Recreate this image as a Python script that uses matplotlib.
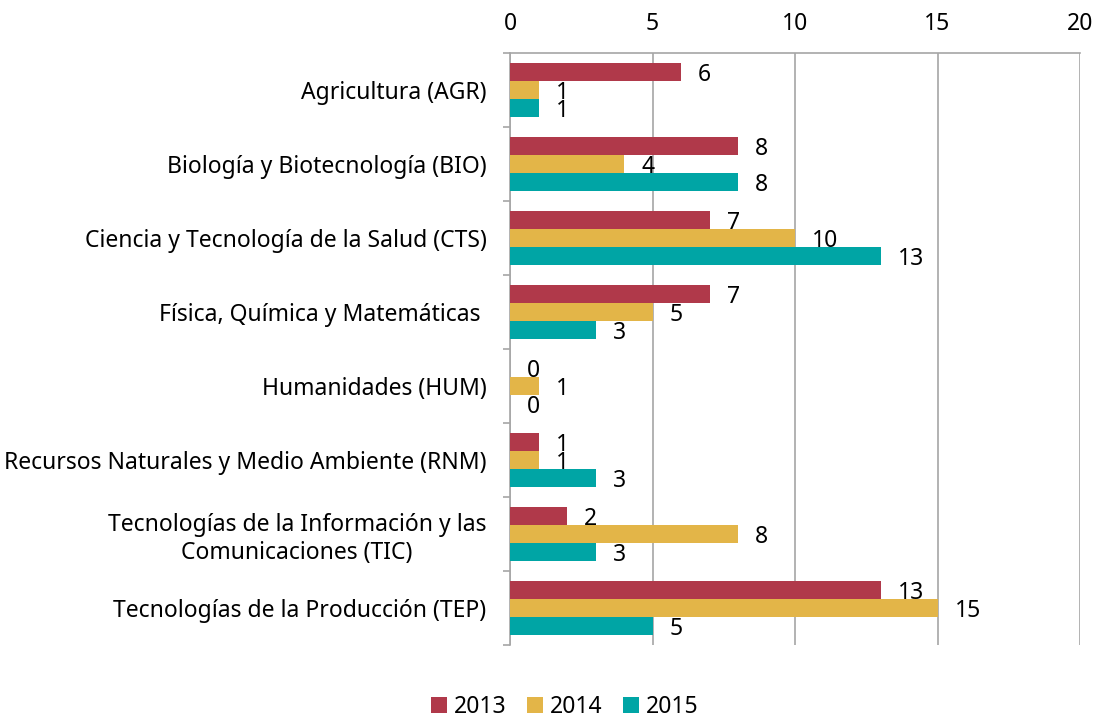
import numpy as np
import matplotlib
matplotlib.use('Agg')
import matplotlib.pyplot as plt
from matplotlib.ticker import FixedLocator

plt.rcParams['font.family'] = ['Noto Sans', 'DejaVu Sans']

categories = ['Agricultura (AGR)',
              'Biología y Biotecnología (BIO)',
              'Ciencia y Tecnología de la Salud (CTS)',
              'Física, Química y Matemáticas ',
              'Humanidades (HUM)',
              'Recursos Naturales y Medio Ambiente (RNM)',
              'Tecnologías de la Información y las\nComunicaciones (TIC)',
              'Tecnologías de la Producción (TEP)']
years = ['2013', '2014', '2015']
v2013 = [6, 8, 7, 7, 0, 1, 2, 13]
v2014 = [1, 4, 10, 5, 1, 1, 8, 15]
v2015 = [1, 8, 13, 3, 0, 3, 3, 5]
colors = ['#B0394A', '#E3B548', '#00A5A5']

fs = 16.5
fig = plt.figure(figsize=(10.98, 7.17), dpi=100)
# axes: x 510..1080 px, y 53..645 px (from top)
ax = fig.add_axes([510 / 1098, 1 - 645 / 717, 570 / 1098, 592 / 717])

n = len(categories)
y = np.arange(n)
h = 0.24
handles = []
for i, (vals, col, lab) in enumerate(zip([v2013, v2014, v2015], colors, years)):
    pos = y + (i - 1) * h
    b = ax.barh(pos, vals, height=h, color=col, label=lab, zorder=3)
    handles.append(b)
    for p, v in zip(pos, vals):
        ax.text(v + 0.6, p + 0.04, str(v), va='center', ha='left', fontsize=fs, zorder=4)

ax.set_xlim(0, 20)
ax.set_ylim(n - 0.5, -0.5)
ax.xaxis.tick_top()
ax.set_xticks([0, 5, 10, 15, 20])
ax.tick_params(axis='x', length=0, labelsize=fs, pad=12)
ax.grid(axis='x', color='#A6A6A6', linewidth=1.2, zorder=0)

ax.set_yticks(y)
ax.set_yticklabels(categories, fontsize=fs)
ax.tick_params(axis='y', which='major', length=0, pad=17)
ax.yaxis.set_minor_locator(FixedLocator(np.arange(-0.5, n, 1)))
ax.tick_params(axis='y', which='minor', length=5, color='#A6A6A6', width=1.2)
for lbl in ax.get_yticklabels():
    lbl.set_multialignment('center')

for s in ['right', 'bottom']:
    ax.spines[s].set_visible(False)
for s in ['left', 'top']:
    ax.spines[s].set_color('#A6A6A6')
    ax.spines[s].set_linewidth(1.2)

fig.legend(handles=handles, labels=years, loc='center', bbox_to_anchor=(565 / 1098, 1 - 707 / 717),
           ncol=3, frameon=False, fontsize=fs, handlelength=0.7, handleheight=0.7,
           handletextpad=0.3, columnspacing=0.9)

fig.savefig('out.png', dpi=100)
